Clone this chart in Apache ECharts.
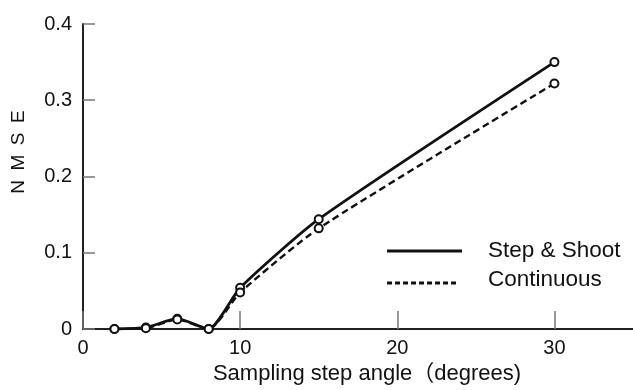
<!DOCTYPE html>
<html>
<head>
<meta charset="utf-8">
<script src="https://cdn.jsdelivr.net/npm/echarts@6/dist/echarts.min.js"></script>
<style>
html,body{margin:0;padding:0;background:#fff;}
#c{width:633px;height:390px;}
</style>
</head>
<body>
<div id="c"></div>
<script>
var angles = [2, 4, 6, 8, 10, 15, 30];
var stepShoot = [0.000, 0.002, 0.0135, 0.000, 0.054, 0.144, 0.350];
var continuous = [0.000, 0.001, 0.0125, 0.000, 0.048, 0.132, 0.322];
var seriesNames = ['Step & Shoot', 'Continuous'];
var yTicks = [0, 0.1, 0.2, 0.3, 0.4];
var xTicks = [0, 10, 20, 30];

var FONT = "'Liberation Sans', 'Noto Sans CJK JP', sans-serif";
var INK = '#111';

function pairs(xs, ys) { return xs.map(function (x, i) { return [x, ys[i]]; }); }

var chart = echarts.init(document.getElementById('c'));
chart.setOption({
  animation: false,
  backgroundColor: '#fff',
  grid: { left: 83, right: 0, top: 24, bottom: 57, containLabel: false },
  xAxis: {
    type: 'value', min: 0, max: 35, interval: 10,
    name: 'Sampling step angle（degrees)',
    nameLocation: 'middle', nameGap: 34,
    nameTextStyle: { fontFamily: FONT, fontSize: 22, color: INK, padding: [0, 0, 0, 18] },
    axisLine: { lineStyle: { color: '#222', width: 2 } },
    axisTick: { inside: true, length: 18, lineStyle: { color: '#777', width: 1.5 } },
    axisLabel: { fontFamily: FONT, fontSize: 20, color: INK, margin: 9, showMaxLabel: false,
      formatter: function (v) { return xTicks.indexOf(v) >= 0 ? String(v) : ''; } },
    splitLine: { show: false }
  },
  yAxis: {
    type: 'value', min: 0, max: 0.4, interval: 0.1,
    axisLine: { show: true, lineStyle: { color: '#222', width: 2 } },
    axisTick: { show: true, inside: true, length: 12, lineStyle: { color: '#777', width: 1.5 } },
    axisLabel: { fontFamily: FONT, fontSize: 20, color: INK, margin: 11,
      formatter: function (v) { var r = Math.round(v * 10) / 10; return yTicks.indexOf(r) >= 0 ? String(r) : ''; } },
    splitLine: { show: false }
  },
  series: [
    {
      name: seriesNames[0], type: 'line', data: pairs(angles, stepShoot),
      smooth: 0.2, symbol: 'emptyCircle', symbolSize: 8,
      lineStyle: { color: INK, width: 2.8 },
      itemStyle: { color: INK, borderColor: INK, borderWidth: 2.6 }
    },
    {
      name: seriesNames[1], type: 'line', data: pairs(angles, continuous),
      smooth: 0.2, symbol: 'emptyCircle', symbolSize: 8,
      lineStyle: { color: INK, width: 2.4, type: [7, 4] },
      itemStyle: { color: INK, borderColor: INK, borderWidth: 2.6 }
    }
  ],
  graphic: [
    { type: 'text', x: 19, y: 152, rotation: Math.PI / 2,
      style: { text: 'N\u2002M\u2002S\u2002E', fill: INK, font: '19px ' + FONT, textAlign: 'center', textVerticalAlign: 'middle' } },
    { type: 'line', shape: { x1: 387, y1: 251, x2: 462, y2: 251 }, style: { stroke: INK, lineWidth: 3 } },
    { type: 'line', shape: { x1: 387, y1: 283, x2: 459, y2: 283 }, style: { stroke: INK, lineWidth: 3, lineDash: [5, 3] } },
    { type: 'text', x: 488, y: 251, style: { text: seriesNames[0], fill: INK, font: '22.5px ' + FONT, textVerticalAlign: 'middle' } },
    { type: 'text', x: 488, y: 280, style: { text: seriesNames[1], fill: INK, font: '22.5px ' + FONT, textVerticalAlign: 'middle' } }
  ]
});
</script>
</body>
</html>
